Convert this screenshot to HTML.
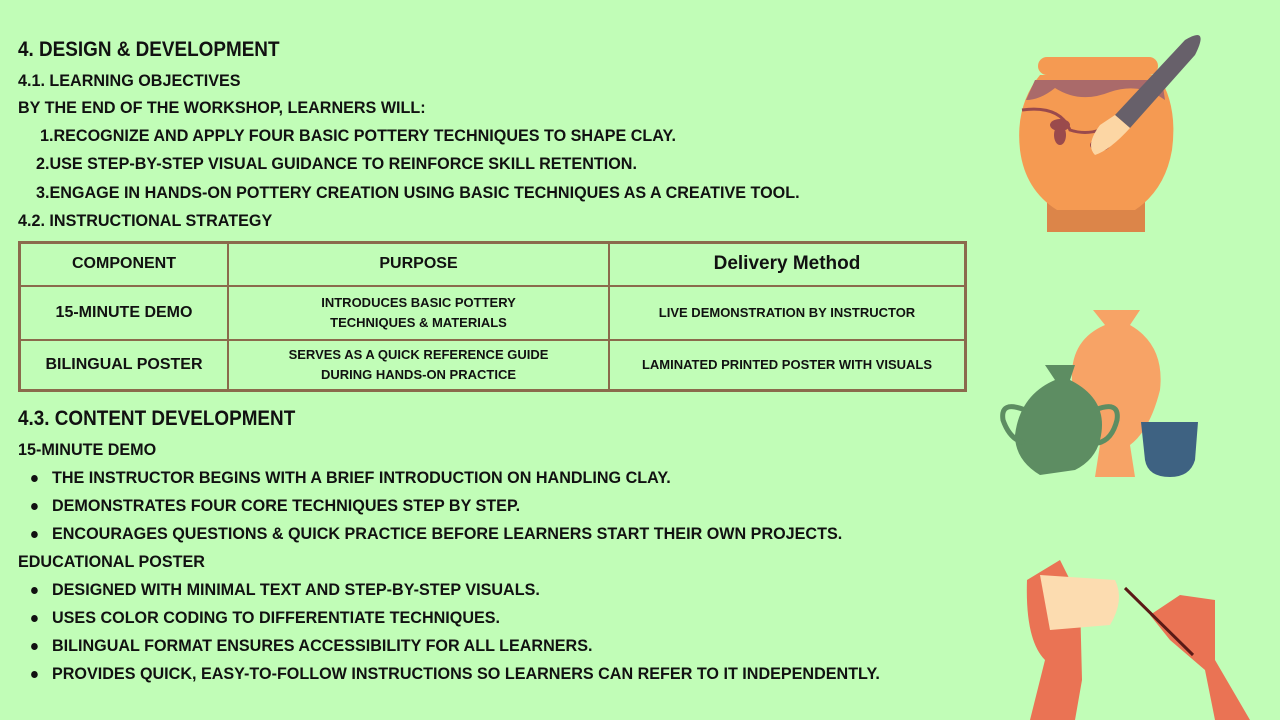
<!DOCTYPE html>
<html><head><meta charset="utf-8"><style>
body{margin:0;width:1280px;height:720px;background:#c1fdb7;position:relative;overflow:hidden;font-family:"Liberation Sans",sans-serif;font-weight:bold;color:#111;text-transform:uppercase}
.t{position:absolute;white-space:nowrap;transform-origin:left center;transform:scaleX(0.95);font-size:17px;line-height:20px}
.h{font-size:21px;transform:scaleX(0.9)}
.b::before{content:"";position:absolute;left:-22px;top:7px;width:7px;height:7px;border-radius:50%;background:#111}
table{position:absolute;left:18px;top:241px;width:949px;height:151px;border-collapse:collapse;border:3px solid #8b6a4c}
td{border:2px solid #8b6a4c;text-align:center;font-size:13px;padding:0;line-height:20px}
td.hd{font-size:16px}
</style></head><body>
<div class="t h" style="left:18px;top:40px">4. Design &amp; Development</div>
<div class="t" style="left:18px;top:71px">4.1. Learning Objectives</div>
<div class="t" style="left:18px;top:98px">By the end of the workshop, learners will:</div>
<div class="t" style="left:40px;top:126px">1.Recognize and apply four basic pottery techniques to shape clay.</div>
<div class="t" style="left:36px;top:154px">2.Use step-by-step visual guidance to reinforce skill retention.</div>
<div class="t" style="left:36px;top:183px">3.Engage in hands-on pottery creation using basic techniques as a creative tool.</div>
<div class="t" style="left:18px;top:211px">4.2. Instructional Strategy</div>
<table>
<tr style="height:43px"><td class="hd" style="width:206px">Component</td><td class="hd" style="width:379px">Purpose</td><td style="font-size:19px;text-transform:none">Delivery Method</td></tr>
<tr style="height:54px"><td class="hd">15-Minute Demo</td><td>Introduces basic pottery<br>techniques &amp; materials</td><td>Live demonstration by instructor</td></tr>
<tr><td class="hd">Bilingual Poster</td><td>Serves as a quick reference guide<br>during hands-on practice</td><td>Laminated printed poster with visuals</td></tr>
</table>
<div class="t h" style="left:18px;top:409px">4.3. Content Development</div>
<div class="t" style="left:18px;top:440px">15-Minute Demo</div>
<div class="t b" style="left:52px;top:468px">The instructor begins with a brief introduction on handling clay.</div>
<div class="t b" style="left:52px;top:496px">Demonstrates four core techniques step by step.</div>
<div class="t b" style="left:52px;top:524px">Encourages questions &amp; quick practice before learners start their own projects.</div>
<div class="t" style="left:18px;top:552px">Educational Poster</div>
<div class="t b" style="left:52px;top:580px">Designed with minimal text and step-by-step visuals.</div>
<div class="t b" style="left:52px;top:608px">Uses color coding to differentiate techniques.</div>
<div class="t b" style="left:52px;top:636px">Bilingual format ensures accessibility for all learners.</div>
<div class="t b" style="left:52px;top:664px">Provides quick, easy-to-follow instructions so learners can refer to it independently.</div>
<svg style="position:absolute;left:0;top:0" width="1280" height="720">
<!-- pot -->
<rect x="1047" y="200" width="98" height="32" fill="#dc8549"/>
<path d="M1040 75 L1158 75 Q1178 105 1172 150 Q1165 190 1135 210 L1057 210 Q1025 190 1020 150 Q1015 105 1040 75Z" fill="#f59a52"/>
<path d="M1035 80 L1162 80 L1165 100 Q1140 82 1110 92 Q1080 104 1055 88 Q1040 100 1026 100 Z" fill="#aa6a6a"/>
<rect x="1038" y="57" width="120" height="18" rx="9" fill="#f59a52"/>
<path d="M1022 110 Q1060 105 1070 130 Q1085 135 1100 130" stroke="#9a4a4c" stroke-width="3" fill="none"/>
<ellipse cx="1060" cy="125" rx="10" ry="6" fill="#9a4a4c"/><ellipse cx="1060" cy="135" rx="6" ry="10" fill="#9a4a4c"/><ellipse cx="1100" cy="145" rx="10" ry="6" fill="#9a4a4c"/>
<path d="M1185 40 Q1210 25 1195 55 L1130 128 L1115 115 Z" fill="#67606a"/>
<path d="M1130 128 L1115 115 L1100 125 Q1085 145 1095 155 Q1110 150 1130 128Z" fill="#fcd6a4"/>
<!-- vases -->
<path d="M1093 310 L1140 310 L1130 325 Q1165 345 1160 390 Q1150 430 1130 445 L1135 477 L1095 477 L1100 445 Q1075 420 1072 380 Q1070 340 1105 325Z" fill="#f7a366"/>
<path d="M1045 365 L1075 365 L1070 380 Q1110 400 1100 440 Q1095 460 1075 470 L1040 475 Q1015 460 1015 435 Q1020 395 1055 380Z" fill="#5d8d62"/>
<path d="M1025 410 Q1000 400 1003 420 Q1010 440 1025 443" stroke="#5d8d62" stroke-width="5" fill="none"/>
<path d="M1095 410 Q1120 400 1117 420 Q1112 440 1098 443" stroke="#5d8d62" stroke-width="5" fill="none"/>
<path d="M1141 422 L1198 422 L1195 460 Q1190 477 1170 477 Q1148 477 1145 460Z" fill="#3e6282"/>
<!-- hands -->
<path d="M1030 720 L1045 660 Q1025 640 1027 580 L1060 560 L1080 600 L1082 680 L1075 720Z" fill="#ea7354"/>
<path d="M1040 575 L1115 580 Q1125 600 1110 625 L1050 630 Z" fill="#fcdcb0"/>
<path d="M1250 720 L1215 660 L1215 600 L1180 595 L1150 615 L1170 640 L1205 670 L1215 720Z" fill="#ea7354"/>
<line x1="1125" y1="588" x2="1193" y2="655" stroke="#5a1a16" stroke-width="3"/>
</svg>
</body></html>
